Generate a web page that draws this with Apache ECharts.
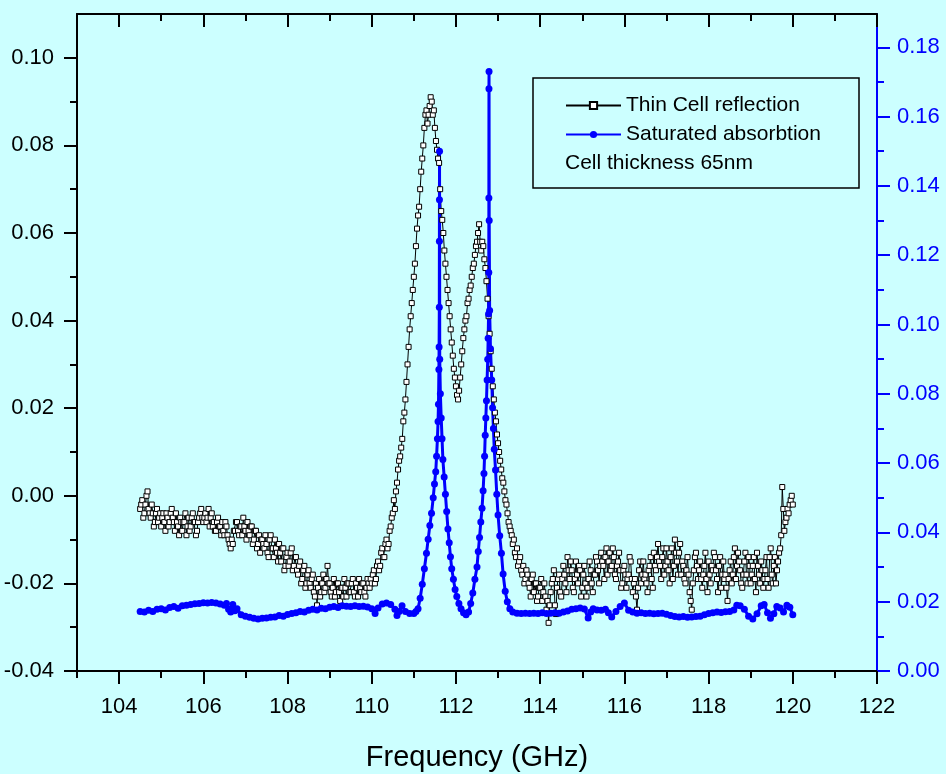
<!DOCTYPE html>
<html>
<head>
<meta charset="utf-8">
<script src="https://cdn.jsdelivr.net/npm/echarts@6/dist/echarts.min.js"></script>
<style>
html,body{margin:0;padding:0;background:#ccffff;}
#chart{width:946px;height:774px;}
</style>
</head>
<body>
<div id="chart"></div>
<script>
// ---- Data ----
const seriesNames = ['Thin Cell reflection', 'Saturated absorbtion'];
const noteText = 'Cell thickness 65nm';
const xTitle = 'Frequency (GHz)';

const xMajorTicks = [104, 106, 108, 110, 112, 114, 116, 118, 120, 122];
const xMinorTicks = [103, 105, 107, 109, 111, 113, 115, 117, 119, 121];
const leftMajorTicks = [-0.04, -0.02, 0.00, 0.02, 0.04, 0.06, 0.08, 0.10];
const leftMinorTicks = [-0.03, -0.01, 0.01, 0.03, 0.05, 0.07, 0.09];
const rightMajorTicks = [0.00, 0.02, 0.04, 0.06, 0.08, 0.10, 0.12, 0.14, 0.16, 0.18];
const rightMinorTicks = [0.01, 0.03, 0.05, 0.07, 0.09, 0.11, 0.13, 0.15, 0.17];

// Thin cell reflection (left axis): sweep from 104.5 GHz in 0.025 GHz steps
const reflStart = 104.5, reflStep = 0.025;
// 104.500 .. 110.475
const reflLowWing = [
 -0.003,-0.002,-0.001,-0.005,-0.004,-0.002,0.000,0.001,-0.003,-0.004,-0.005,-0.002,-0.004,-0.007,-0.006,-0.004,-0.003,-0.006,-0.005,-0.004,
 -0.007,-0.005,-0.004,-0.006,-0.008,-0.004,-0.005,-0.007,-0.006,-0.004,-0.003,-0.005,-0.006,-0.008,-0.004,-0.006,-0.007,-0.009,-0.005,-0.006,
 -0.008,-0.006,-0.006,-0.004,-0.009,-0.007,-0.005,-0.008,-0.007,-0.005,-0.004,-0.006,-0.006,-0.009,-0.008,-0.006,-0.005,-0.004,-0.003,-0.005,
 -0.006,-0.005,-0.004,-0.006,-0.005,-0.003,-0.007,-0.005,-0.004,-0.007,-0.006,-0.008,-0.008,-0.006,-0.005,-0.007,-0.007,-0.009,-0.006,-0.008,
 -0.009,-0.006,-0.007,-0.009,-0.010,-0.011,-0.012,-0.010,-0.011,-0.008,-0.008,-0.006,-0.006,-0.008,-0.009,-0.007,-0.007,-0.009,-0.005,-0.007,
 -0.008,-0.010,-0.006,-0.008,-0.009,-0.007,-0.007,-0.011,-0.010,-0.008,-0.008,-0.012,-0.011,-0.009,-0.013,-0.010,-0.010,-0.011,-0.012,-0.009,
 -0.011,-0.013,-0.014,-0.010,-0.009,-0.012,-0.012,-0.014,-0.010,-0.012,-0.013,-0.015,-0.011,-0.013,-0.015,-0.012,-0.012,-0.017,-0.016,-0.014,
 -0.013,-0.016,-0.015,-0.013,-0.012,-0.017,-0.016,-0.014,-0.014,-0.017,-0.018,-0.016,-0.015,-0.020,-0.019,-0.017,-0.016,-0.021,-0.020,-0.018,
 -0.017,-0.020,-0.021,-0.019,-0.018,-0.022,-0.023,-0.020,-0.025,-0.021,-0.019,-0.023,-0.022,-0.020,-0.018,-0.022,-0.021,-0.019,-0.016,-0.020,
 -0.020,-0.022,-0.023,-0.021,-0.019,-0.023,-0.022,-0.020,-0.020,-0.022,-0.024,-0.021,-0.021,-0.023,-0.019,-0.021,-0.023,-0.020,-0.020,-0.022,
 -0.022,-0.020,-0.019,-0.022,-0.023,-0.020,-0.021,-0.023,-0.019,-0.021,-0.022,-0.020,-0.020,-0.022,-0.023,-0.021,-0.019,-0.020,-0.021,-0.019,
 -0.020,-0.018,-0.017,-0.020,-0.019,-0.016,-0.015,-0.017,-0.016,-0.013,-0.012,-0.014,-0.014,-0.011,-0.010,-0.012,-0.011,-0.008,-0.007,-0.005
];
// 110.500 .. 113.300
const reflPeaks = [
 -0.004,-0.001,-0.003,0.001,0.003,0.006,0.008,0.009,0.011,0.013,
 0.017,0.019,0.022,0.026,0.030,0.034,0.038,0.041,0.044,0.047,
 0.050,0.053,0.057,0.061,0.064,0.066,0.070,0.074,0.077,0.080,
 0.084,0.087,0.088,0.085,0.087,0.089,0.091,0.090,0.087,0.088,
 0.084,0.081,0.079,0.077,0.076,0.070,0.065,0.063,0.060,0.056,
 0.053,0.050,0.047,0.044,0.041,0.038,0.035,0.032,0.029,0.027,
 0.025,0.023,0.022,0.024,0.027,0.030,0.033,0.036,0.038,0.040,
 0.041,0.044,0.045,0.047,0.048,0.050,0.052,0.053,0.055,0.057,
 0.058,0.060,0.062,0.058,0.056,0.058,0.057,0.054,0.052,0.049,
 0.045,0.041,0.037,0.033,0.029,0.025,0.022,0.019,0.017,0.014,
 0.012,0.010,0.008,0.006,0.004,0.003,0.001,-0.001,-0.002,-0.004,
 -0.006,-0.007,-0.008
];
// 113.325 .. 120.000
const reflHighWing = [
 -0.009,-0.011,-0.010,-0.013,-0.014,-0.012,-0.016,
 -0.015,-0.014,-0.017,-0.018,-0.016,-0.020,-0.019,-0.017,-0.018,-0.020,-0.021,-0.023,-0.019,-0.018,-0.022,-0.020,-0.020,-0.024,-0.023,-0.021,
 -0.021,-0.019,-0.024,-0.022,-0.020,-0.023,-0.026,-0.024,-0.029,-0.025,-0.022,-0.020,-0.019,-0.017,-0.025,-0.027,-0.021,-0.019,-0.018,-0.022,
 -0.023,-0.019,-0.016,-0.018,-0.020,-0.022,-0.014,-0.017,-0.019,-0.015,-0.017,-0.021,-0.022,-0.019,-0.015,-0.018,-0.020,-0.016,-0.017,-0.023,
 -0.021,-0.018,-0.016,-0.020,-0.023,-0.021,-0.019,-0.015,-0.017,-0.020,-0.022,-0.018,-0.018,-0.014,-0.015,-0.017,-0.020,-0.016,-0.013,-0.015,
 -0.016,-0.019,-0.014,-0.012,-0.018,-0.015,-0.013,-0.017,-0.016,-0.012,-0.014,-0.018,-0.019,-0.016,-0.015,-0.013,-0.017,-0.021,-0.020,-0.017,
 -0.016,-0.018,-0.021,-0.019,-0.018,-0.014,-0.015,-0.019,-0.022,-0.020,-0.019,-0.023,-0.026,-0.021,-0.017,-0.015,-0.020,-0.018,-0.015,-0.019,
 -0.018,-0.020,-0.022,-0.017,-0.016,-0.014,-0.019,-0.021,-0.013,-0.016,-0.017,-0.014,-0.011,-0.015,-0.016,-0.019,-0.014,-0.012,-0.018,-0.016,
 -0.012,-0.015,-0.017,-0.020,-0.014,-0.012,-0.019,-0.016,-0.010,-0.013,-0.015,-0.018,-0.013,-0.011,-0.018,-0.015,-0.016,-0.019,-0.020,-0.017,
 -0.014,-0.018,-0.022,-0.024,-0.026,-0.020,-0.017,-0.014,-0.013,-0.016,-0.019,-0.017,-0.015,-0.019,-0.021,-0.018,-0.016,-0.013,-0.019,-0.022,
 -0.015,-0.018,-0.020,-0.016,-0.017,-0.013,-0.014,-0.017,-0.019,-0.022,-0.016,-0.014,-0.021,-0.018,-0.015,-0.019,-0.018,-0.021,-0.024,-0.019,
 -0.017,-0.015,-0.020,-0.018,-0.014,-0.012,-0.019,-0.016,-0.013,-0.015,-0.017,-0.020,-0.021,-0.018,-0.015,-0.013,-0.018,-0.020,-0.014,-0.016,
 -0.020,-0.018,-0.016,-0.014,-0.019,-0.022,-0.013,-0.016,-0.018,-0.020,-0.015,-0.017,-0.021,-0.019,-0.017,-0.014,-0.019,-0.021,-0.014,-0.012,
 -0.018,-0.020,-0.016,-0.014,-0.020,-0.017,-0.015,-0.013,-0.012,-0.009,0.002,-0.003,-0.008,-0.006,-0.005,-0.003,-0.004,-0.002,-0.001,0.000,
 -0.002
];

// Saturated absorption (right axis): [frequency GHz, signal]
const absorption = [
 [104.5,0.0172],[104.6,0.0170],[104.7,0.0175],[104.8,0.0172],[104.9,0.0178],[105.0,0.0180],
 [105.1,0.0176],[105.2,0.0183],[105.3,0.0186],[105.4,0.0181],[105.5,0.0188],[105.6,0.0190],
 [105.7,0.0192],[105.8,0.0194],[105.9,0.0195],[106.0,0.0197],[106.1,0.0196],[106.2,0.0198],
 [106.3,0.0196],[106.4,0.0193],[106.5,0.0190],[106.55,0.0195],[106.6,0.0178],[106.65,0.0170],
 [106.7,0.0192],[106.75,0.0174],[106.8,0.0180],[106.9,0.0162],[107.0,0.0158],[107.1,0.0155],
 [107.2,0.0152],[107.3,0.0150],[107.4,0.0152],[107.5,0.0153],[107.6,0.0155],[107.7,0.0156],
 [107.8,0.0160],[107.9,0.0158],[108.0,0.0163],[108.1,0.0166],[108.2,0.0168],[108.3,0.0172],
 [108.4,0.0170],[108.5,0.0175],[108.6,0.0178],[108.7,0.0176],[108.8,0.0181],[108.9,0.0180],
 [109.0,0.0184],[109.1,0.0186],[109.2,0.0183],[109.3,0.0188],[109.4,0.0187],[109.5,0.0186],
 [109.6,0.0188],[109.7,0.0186],[109.8,0.0187],[109.9,0.0185],[110.0,0.0180],[110.08,0.0166],
 [110.15,0.0182],[110.25,0.0193],[110.35,0.0196],[110.45,0.0192],[110.55,0.0178],[110.6,0.0160],
 [110.65,0.0172],[110.72,0.0188],[110.8,0.0172],[110.9,0.0166],[111.0,0.0166],[111.05,0.0172],
 [111.1,0.0180],[111.15,0.0210],[111.2,0.0250],[111.25,0.0295],[111.3,0.0340],[111.34,0.0380],
 [111.38,0.0420],[111.42,0.0455],[111.46,0.0500],[111.49,0.0540],[111.52,0.0575],[111.54,0.0620],
 [111.56,0.0670],[111.575,0.0720],[111.585,0.0770],[111.595,0.0870],[111.6,0.0935],[111.605,0.1050],
 [111.607,0.1240],[111.608,0.1360],[111.61,0.1500],[111.615,0.0900],[111.63,0.0800],[111.65,0.0730],
 [111.67,0.0670],[111.69,0.0610],[111.72,0.0560],[111.75,0.0510],[111.78,0.0460],[111.81,0.0410],
 [111.84,0.0370],[111.87,0.0330],[111.9,0.0295],[111.94,0.0265],[111.98,0.0235],[112.02,0.0215],
 [112.07,0.0195],[112.12,0.0180],[112.18,0.0168],[112.24,0.0162],[112.3,0.0170],[112.35,0.0195],
 [112.4,0.0225],[112.45,0.0265],[112.5,0.0300],[112.53,0.0345],[112.56,0.0385],[112.59,0.0430],
 [112.62,0.0470],[112.645,0.0520],[112.665,0.0570],[112.68,0.0620],[112.695,0.0680],[112.71,0.0730],
 [112.725,0.0780],[112.74,0.0840],[112.755,0.0900],[112.765,0.0960],[112.775,0.1030],[112.78,0.1150],
 [112.782,0.1365],[112.784,0.1680],[112.786,0.1730],[112.79,0.1300],[112.8,0.1040],[112.82,0.0930],
 [112.85,0.0840],[112.87,0.0760],[112.89,0.0700],[112.91,0.0640],[112.94,0.0580],[112.97,0.0510],
 [113.0,0.0450],[113.04,0.0390],[113.08,0.0340],[113.12,0.0280],[113.17,0.0230],[113.22,0.0200],
 [113.28,0.0180],[113.35,0.0170],[113.45,0.0167],[113.55,0.0166],[113.65,0.0167],[113.75,0.0166],
 [113.85,0.0167],[113.95,0.0166],[114.05,0.0168],[114.15,0.0166],[114.25,0.0167],[114.35,0.0168],
 [114.45,0.0167],[114.55,0.0170],[114.65,0.0173],[114.75,0.0178],[114.85,0.0180],[114.95,0.0182],
 [115.05,0.0179],[115.14,0.0153],[115.2,0.0170],[115.26,0.0180],[115.35,0.0176],[115.45,0.0175],
 [115.55,0.0178],[115.62,0.0168],[115.7,0.0156],[115.8,0.0172],[115.9,0.0186],[116.0,0.0196],
 [116.1,0.0175],[116.2,0.0170],[116.3,0.0167],[116.4,0.0168],[116.5,0.0166],[116.6,0.0167],
 [116.7,0.0165],[116.8,0.0166],[116.9,0.0167],[117.0,0.0164],[117.1,0.0160],[117.2,0.0157],
 [117.3,0.0156],[117.4,0.0157],[117.5,0.0155],[117.6,0.0156],[117.7,0.0157],[117.8,0.0158],
 [117.9,0.0162],[118.0,0.0166],[118.1,0.0168],[118.2,0.0170],[118.3,0.0169],[118.4,0.0171],
 [118.5,0.0172],[118.6,0.0176],[118.67,0.0190],[118.75,0.0188],[118.85,0.0178],[118.95,0.0158],
 [119.05,0.0150],[119.15,0.0165],[119.25,0.0188],[119.32,0.0192],[119.4,0.0168],[119.47,0.0152],
 [119.55,0.0165],[119.62,0.0186],[119.7,0.0182],[119.78,0.0170],[119.86,0.0190],[119.93,0.0184],
 [120.0,0.0162]
];

// ---- build series data from the arrays ----
const reflection = reflLowWing.concat(reflPeaks, reflHighWing)
  .map((v, i) => [+(reflStart + i * reflStep).toFixed(3), v]);

const FONT = '"Liberation Sans", Arial, Helvetica, sans-serif';
const BLUE = '#0000ff';

const chart = echarts.init(document.getElementById('chart'), null, {renderer: 'canvas'});

function xAxisDef(pos, major, show) {
  return {
    type: 'value', position: pos, min: 103, max: 122,
    axisLine: {show: show.line, onZero: false, lineStyle: {color: '#000', width: 2}},
    axisTick: {show: true, inside: pos === 'top', length: major ? 13 : 7,
      customValues: major ? xMajorTicks : xMinorTicks,
      lineStyle: {color: '#000', width: 2}},
    axisLabel: {show: show.label, customValues: xMajorTicks, margin: 25,
      fontSize: 22, color: '#000', fontFamily: FONT,
      formatter: v => String(Math.round(v))},
    splitLine: {show: false},
    name: show.name ? xTitle : '', nameLocation: 'middle', nameGap: 72,
    nameTextStyle: {fontSize: 29, color: '#000', fontFamily: FONT}
  };
}
function yAxisDef(pos, major, color, min, max, majorTicks, minorTicks, showLine) {
  return {
    type: 'value', position: pos, min: min, max: max,
    axisLine: {show: showLine, onZero: false, lineStyle: {color: color, width: 2}},
    axisTick: {show: true, inside: false, length: major ? 13 : 7,
      customValues: major ? majorTicks : minorTicks,
      lineStyle: {color: color, width: 2}},
    axisLabel: {show: major, customValues: majorTicks, margin: pos === 'left' ? 23 : 20,
      fontSize: 22, color: color, fontFamily: FONT,
      formatter: v => v.toFixed(2)},
    splitLine: {show: false}
  };
}

chart.setOption({
  backgroundColor: '#ccffff',
  animation: false,
  grid: {left: 77, right: 69, top: 14, bottom: 103, containLabel: false, outerBoundsMode: 'none'},
  xAxis: [
    xAxisDef('bottom', true, {line: true, label: true, name: true}),
    xAxisDef('bottom', false, {line: false, label: false, name: false}),
    xAxisDef('top', true, {line: true, label: false, name: false}),
    xAxisDef('top', false, {line: false, label: false, name: false})
  ],
  yAxis: [
    yAxisDef('left', true, '#000', -0.04, 0.11, leftMajorTicks, leftMinorTicks, true),
    yAxisDef('left', false, '#000', -0.04, 0.11, leftMajorTicks, leftMinorTicks, false),
    yAxisDef('right', true, BLUE, 0, 0.1896, rightMajorTicks, rightMinorTicks, true),
    yAxisDef('right', false, BLUE, 0, 0.1896, rightMajorTicks, rightMinorTicks, false)
  ],
  legend: {
    orient: 'vertical', left: 565, top: 95, padding: 0,
    itemWidth: 55, itemHeight: 9, itemGap: 8,
    textStyle: {fontSize: 21, color: '#000', fontFamily: FONT},
    data: seriesNames
  },
  graphic: [
    {type: 'rect', shape: {x: 533, y: 78, width: 326, height: 110},
      style: {fill: 'rgba(0,0,0,0)', stroke: '#000', lineWidth: 1.5}, z: 0},
    {type: 'text', left: 565, top: 153,
      style: {text: noteText, font: '21px ' + FONT, fill: '#000'}, z: 10}
  ],
  series: [
    {
      name: seriesNames[0], type: 'line', xAxisIndex: 0, yAxisIndex: 0,
      data: reflection, symbol: 'rect', symbolSize: 5, showAllSymbol: true,
      lineStyle: {color: '#000', width: 1},
      itemStyle: {color: '#ffffff', borderColor: '#000', borderWidth: 1},
      emphasis: {disabled: true}
    },
    {
      name: seriesNames[1], type: 'line', xAxisIndex: 0, yAxisIndex: 2,
      data: absorption, symbol: 'circle', symbolSize: 7, showAllSymbol: true,
      lineStyle: {color: BLUE, width: 3},
      itemStyle: {color: BLUE, borderWidth: 0},
      emphasis: {disabled: true}
    }
  ]
});
</script>
</body>
</html>
